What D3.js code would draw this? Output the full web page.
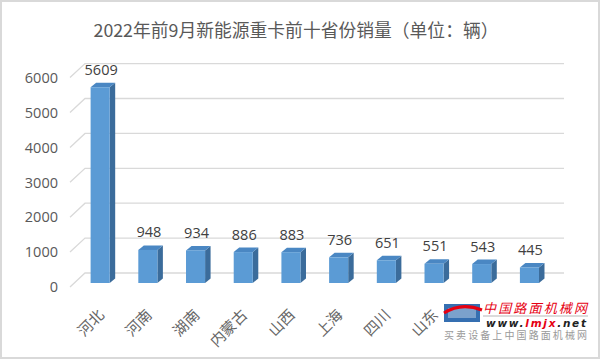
<!DOCTYPE html>
<html>
<head>
<meta charset="utf-8">
<script src="https://cdn.jsdelivr.net/npm/d3@7"></script>
<style>
  html, body { margin: 0; padding: 0; background: #fff; }
  svg { display: block; }
</style>
</head>
<body>
<div id="chart"></div>
<script>
const provinces = ["河北", "河南", "湖南", "内蒙古", "山西", "上海", "四川", "山东", "广东", "江苏"];
const sales = [5609, 948, 934, 886, 883, 736, 651, 551, 543, 445];
const yTicks = [0, 1000, 2000, 3000, 4000, 5000, 6000];
const titleText = "2022年前9月新能源重卡前十省份销量（单位：辆）";

const W = 600, H = 359;
const svg = d3.select("#chart").append("svg").attr("width", W).attr("height", H);

// chart border
svg.append("rect").attr("x", 1).attr("y", 1).attr("width", W - 2).attr("height", H - 2)
  .attr("fill", "#fff").attr("stroke", "#d9d9d9").attr("stroke-width", 2);

// title
svg.append("text").attr("x", 296).attr("y", 37).attr("text-anchor", "middle")
  .attr("font-family", "'Noto Sans CJK SC', sans-serif").attr("font-size", 17.8)
  .attr("fill", "#595959").text(titleText);

// scales (front plane)
const x = d3.scaleBand().domain(provinces).range([72, 549]).paddingInner(0.6).paddingOuter(0.3);
const y = d3.scaleLinear().domain([0, 6000]).range([287, 77.6]);
const depth = { dx: 15, dy: -14 };       // wall depth
const barFront = { dx: 4.3, dy: -4 };    // bar front position inside depth
const barDepth = { dx: 5.5, dy: -4.5 };  // bar own depth

// gridlines (diagonal + back wall horizontal)
const grid = svg.append("g");
yTicks.forEach(v => {
  const y0 = y(v);
  const p = d3.path();
  p.moveTo(70, y0);
  p.lineTo(70 + depth.dx, y0 + depth.dy);
  p.lineTo(549 + depth.dx, y0 + depth.dy);
  grid.append("path").attr("d", p.toString()).attr("fill", "none")
    .attr("stroke", "#d9d9d9").attr("stroke-width", 1.3);
});

// y axis labels
svg.append("g").selectAll("text").data(yTicks).join("text")
  .attr("x", 58).attr("y", d => y(d)).attr("dy", "0.36em")
  .attr("text-anchor", "end")
  .attr("font-family", "'Open Sans', sans-serif").attr("font-size", 14.5)
  .attr("fill", "#595959").text(d => d);

// bars
const bars = svg.append("g");
provinces.forEach((p, i) => {
  const v = sales[i];
  const x0 = x(p) + barFront.dx;
  const x1 = x0 + x.bandwidth();
  const yb = y(0) + barFront.dy;
  const yt = y(v) + barFront.dy;
  const dx = barDepth.dx, dy = barDepth.dy;
  bars.append("path")
    .attr("d", `M${x1},${yt}L${x1 + dx},${yt + dy}L${x1 + dx},${yb + dy}L${x1},${yb}Z`)
    .attr("fill", "#3b6c9b");
  bars.append("path")
    .attr("d", `M${x0},${yt}L${x0 + dx},${yt + dy}L${x1 + dx},${yt + dy}L${x1},${yt}Z`)
    .attr("fill", "#4a87c3");
  bars.append("rect").attr("x", x0).attr("y", yt).attr("width", x1 - x0).attr("height", yb - yt)
    .attr("fill", "#5b9bd5");
  bars.append("text").attr("x", (x0 + x1) / 2 + 1).attr("y", yt + dy - 8)
    .attr("text-anchor", "middle")
    .attr("font-family", "'Open Sans', sans-serif").attr("font-size", 14.5)
    .attr("fill", "#404040").text(v);
});

// x labels (rotated)
svg.append("g").selectAll("text").data(provinces).join("text")
  .attr("transform", d => {
    const cx = x(d) + barFront.dx + x.bandwidth() / 2;
    return `translate(${cx + 5},${316}) rotate(-45)`;
  })
  .attr("text-anchor", "end")
  .attr("font-family", "'Noto Sans CJK SC', serif").attr("font-size", 15)
  .attr("fill", "#666").text(d => d);

// watermark (opaque, covers the last labels as in the reference)
const wm = svg.append("g");
wm.append("rect").attr("x", 442).attr("y", 298).attr("width", 148).attr("height", 44).attr("fill", "#fff");
wm.append("path").attr("d", "M444,304 L480,304 L480,322 L444,322 Z").attr("fill", "#1f5fa8").attr("opacity", 0.9);
wm.append("path").attr("d", "M448,308 L476,308 L476,318 L448,318 Z").attr("fill", "#fff").attr("opacity", 0.35);
wm.append("path").attr("d", "M444,313 Q461,302 482,310").attr("fill", "none").attr("stroke", "#e60012").attr("stroke-width", 3);
wm.append("text").attr("x", 483).attr("y", 313).attr("font-family", "'Noto Sans CJK SC', sans-serif")
  .attr("font-size", 13).attr("font-style", "italic").attr("fill", "#e60012").attr("textLength", 104).text("中国路面机械网");
wm.append("line").attr("x1", 483).attr("x2", 588).attr("y1", 316).attr("y2", 316).attr("stroke", "#888").attr("stroke-width", 0.6);
wm.append("text").attr("x", 486).attr("y", 327).attr("font-family", "'DejaVu Sans', sans-serif")
  .attr("font-size", 10.5).attr("font-style", "italic").attr("font-weight", "bold").attr("fill", "#222")
  .attr("textLength", 100)
  .call(t => {
    t.append("tspan").text("www.");
    t.append("tspan").attr("fill", "#e60012").text("lmjx");
    t.append("tspan").text(".net");
  });
wm.append("text").attr("x", 444).attr("y", 339).attr("font-family", "'Noto Sans CJK SC', sans-serif")
  .attr("font-size", 10).attr("fill", "#9a9a9a").attr("textLength", 143).text("买卖设备上中国路面机械网");
</script>
</body>
</html>
